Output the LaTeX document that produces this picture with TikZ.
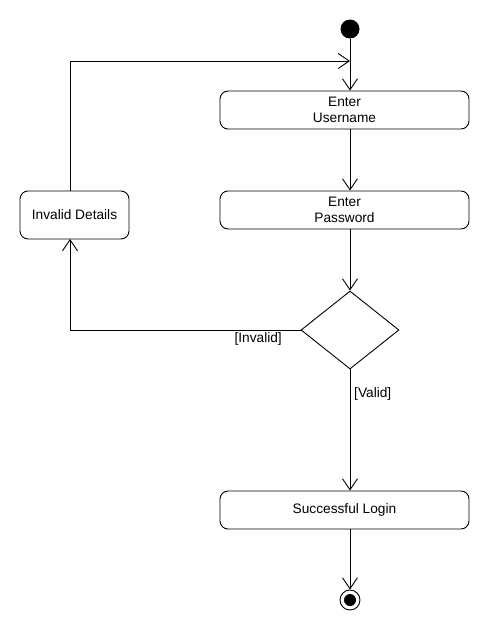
\documentclass[tikz,border=0pt]{standalone}
\usepackage{fontspec}
\setmainfont{Liberation Sans}
\usetikzlibrary{arrows.meta,shapes.geometric}
\begin{document}
\begin{tikzpicture}[x=1pt,y=-1pt,
  every node/.style={font=\fontsize{13.7}{16.5}\selectfont},
  action/.style={draw,rounded corners=8pt,line width=0.9pt,inner sep=0pt,align=center},
  flow/.style={draw,line width=0.9pt,-{Straight Barb[length=11pt,width=15pt,line width=0.9pt]}},
  guard/.style={font=\fontsize{13.7}{16}\selectfont,inner sep=0pt}]
\useasboundingbox (0,0) rectangle (490,630);
% initial and final states
\node (start) [circle,fill=black,minimum size=19pt,inner sep=0pt] at (350,29) {};
\node (stop) [circle,draw,line width=0.9pt,minimum size=20pt,inner sep=0pt] at (350,600) {};
\fill (stop.center) circle (6pt);
% actions
\node (user) [action,minimum width=249pt,minimum height=38pt] at (344.5,110) {Enter\\Username};
\node (pass) [action,minimum width=249pt,minimum height=38pt] at (344.5,210) {Enter\\Password};
\node (bad) [action,minimum width=109pt,minimum height=48pt] at (74.5,215) {Invalid Details};
\node (ok) [action,minimum width=249pt,minimum height=38pt] at (344.5,510) {Successful Login};
% decision
\node (dec) [diamond,draw,line width=0.9pt,minimum width=98pt,minimum height=78pt,inner sep=0pt,aspect=1.25] at (350,330) {};
% loop-back path runs a little left of the box centre
\coordinate (merge) at (350,61);
\coordinate (badtop) at (70,191);
\coordinate (badbot) at (70,239);
% control flows
\draw[flow] (start) -- (user.north -| start);
\draw[flow] (user.south -| start) -- (pass.north -| start);
\draw[flow] (pass.south -| start) -- (dec.north);
\draw[flow] (dec.south) -- (ok.north -| dec.south);
\draw[flow] (ok.south -| stop) -- (stop.north);
\draw[flow] (dec.west) -| (badbot);
\draw[flow] (badtop) |- (merge);
% guards
\node[guard,anchor=north east] at (282,332) {[Invalid]};
\node[guard,anchor=west] at (354,394) {[Valid]};
\end{tikzpicture}
\end{document}
